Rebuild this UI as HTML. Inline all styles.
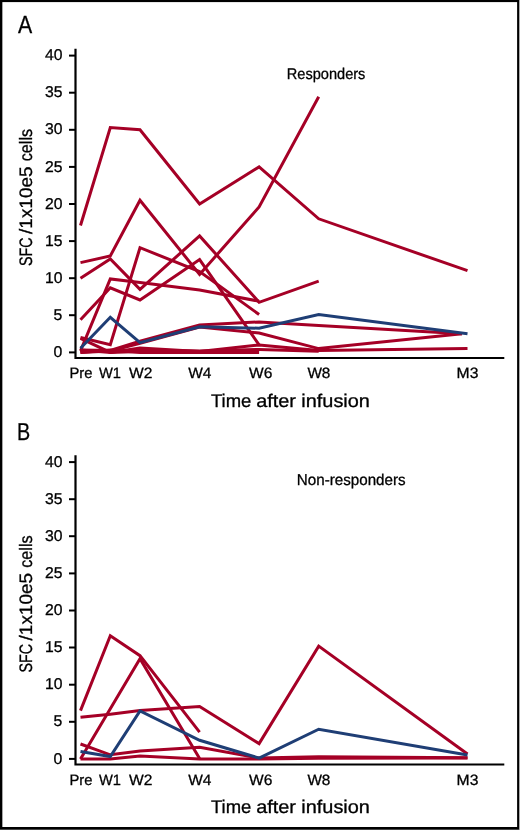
<!DOCTYPE html>
<html><head><meta charset="utf-8"><title>Figure</title>
<style>
html,body{margin:0;padding:0;background:#fff;}
body{width:520px;height:830px;overflow:hidden;}
svg{display:block;font-family:"Liberation Sans",sans-serif;}
.ln polyline{fill:none;stroke-width:3.0;stroke-linejoin:miter;stroke-linecap:butt;}
text{fill:#000;stroke:#000;stroke-width:0.3px;text-rendering:geometricPrecision;}
</style></head><body>
<svg width="520" height="830" viewBox="0 0 520 830">
<rect x="0" y="0" width="520" height="830" fill="#aaa"/>
<rect x="0" y="0" width="519" height="830" fill="#464646"/>
<rect x="0" y="0" width="519" height="829" fill="#000"/>
<rect x="2.35" y="2.1" width="514.75" height="824.9" fill="#fff"/>

<g class="ln">
<polyline points="80.5,225.5 110.3,127.5 140.0,129.8 199.6,204.0 259.1,166.9 318.7,218.8 467.5,270.7" stroke="#A50026"/>
<polyline points="80.5,262.6 110.3,255.9 140.0,200.2 199.6,274.4 259.1,206.9 318.7,96.7" stroke="#A50026"/>
<polyline points="80.5,278.2 110.3,258.9 140.0,289.3 199.6,235.9 259.1,302.3 318.7,281.1" stroke="#A50026"/>
<polyline points="80.5,319.7 110.3,287.8 140.0,300.0 199.6,259.6 259.1,344.9" stroke="#A50026"/>
<polyline points="80.5,350.9 110.3,278.9 140.0,282.6 199.6,290.0 259.1,301.2" stroke="#A50026"/>
<polyline points="80.5,337.5 110.3,344.6 140.0,247.7 199.6,271.5 259.1,314.5" stroke="#A50026"/>
<polyline points="80.5,350.1 110.3,350.5 140.0,341.2 199.6,324.9 259.1,321.9 318.7,325.6 462.0,333.8" stroke="#A50026"/>
<polyline points="80.5,352.4 110.3,350.9 140.0,343.4 199.6,327.1 259.1,333.1 318.7,348.6 462.0,333.8" stroke="#A50026"/>
<polyline points="80.5,338.3 110.3,352.4 140.0,351.6 199.6,352.4 259.1,350.1" stroke="#A50026"/>
<polyline points="80.5,350.1 110.3,352.4 140.0,347.9 199.6,351.6 259.1,344.9 318.7,350.5 467.5,348.6" stroke="#A50026"/>
<polyline points="80.5,352.4 110.3,350.1 140.0,352.4 199.6,352.4 259.1,352.4" stroke="#A50026"/>
<polyline points="80.5,351.6 110.3,351.6 140.0,350.1 199.6,350.9 259.1,349.4 318.7,351.2" stroke="#A50026"/>
<polyline points="80.5,348.3 110.3,317.3 140.0,342.7 199.6,326.8 259.1,328.2 318.7,314.5 467.5,333.8" stroke="#1F3E75"/>
<polyline points="80.5,710.6 110.3,635.7 140.0,655.7 199.6,732.1" stroke="#A50026"/>
<polyline points="80.5,758.9 110.3,708.8 140.0,658.7 199.6,758.5" stroke="#A50026"/>
<polyline points="80.5,717.3 110.3,714.3 140.0,710.6 199.6,706.5 259.1,743.6 318.7,646.1 467.5,754.0" stroke="#A50026"/>
<polyline points="80.5,744.0 110.3,754.8 140.0,751.1 199.6,747.3 259.1,758.1 318.7,756.8 467.5,757.7" stroke="#A50026"/>
<polyline points="80.5,758.9 110.3,758.9 140.0,755.9 199.6,758.9 259.1,758.9 318.7,758.3 467.5,758.1" stroke="#A50026"/>
<polyline points="80.5,751.4 110.3,756.6 140.0,711.0 199.6,740.3 259.1,758.1 318.7,729.2 467.5,755.1" stroke="#1F3E75"/>
</g>
<g style="filter:grayscale(1)">
<text x="18.1" y="33.4" font-size="24.8" textLength="14.2" lengthAdjust="spacingAndGlyphs">A</text>
<text x="16.9" y="439.6" font-size="24.5" textLength="13.2" lengthAdjust="spacingAndGlyphs">B</text>
<text x="286.8" y="79.3" font-size="15.5" textLength="78.6" lengthAdjust="spacingAndGlyphs">Responders</text>
<text x="296.8" y="485.0" font-size="15.6" textLength="108.8" lengthAdjust="spacingAndGlyphs">Non-responders</text>
<path d="M75.5,48.7 V358.0 H504.3" fill="none" stroke="#000" stroke-width="2.2" stroke-linejoin="miter"/>
<line x1="69" x2="75.5" y1="352.4" y2="352.4" stroke="#000" stroke-width="2"/>
<text x="53.6" y="357.0" font-size="15.7" textLength="8.8" lengthAdjust="spacingAndGlyphs">0</text>
<line x1="69" x2="75.5" y1="315.2" y2="315.2" stroke="#000" stroke-width="2"/>
<text x="53.6" y="319.9" font-size="15.7" textLength="8.8" lengthAdjust="spacingAndGlyphs">5</text>
<line x1="69" x2="75.5" y1="278.2" y2="278.2" stroke="#000" stroke-width="2"/>
<text x="44.9" y="282.8" font-size="15.7" textLength="17.5" lengthAdjust="spacingAndGlyphs">10</text>
<line x1="69" x2="75.5" y1="241.1" y2="241.1" stroke="#000" stroke-width="2"/>
<text x="44.9" y="245.7" font-size="15.7" textLength="17.5" lengthAdjust="spacingAndGlyphs">15</text>
<line x1="69" x2="75.5" y1="204.0" y2="204.0" stroke="#000" stroke-width="2"/>
<text x="44.9" y="208.6" font-size="15.7" textLength="17.5" lengthAdjust="spacingAndGlyphs">20</text>
<line x1="69" x2="75.5" y1="166.9" y2="166.9" stroke="#000" stroke-width="2"/>
<text x="44.9" y="171.5" font-size="15.7" textLength="17.5" lengthAdjust="spacingAndGlyphs">25</text>
<line x1="69" x2="75.5" y1="129.8" y2="129.8" stroke="#000" stroke-width="2"/>
<text x="44.9" y="134.4" font-size="15.7" textLength="17.5" lengthAdjust="spacingAndGlyphs">30</text>
<line x1="69" x2="75.5" y1="92.7" y2="92.7" stroke="#000" stroke-width="2"/>
<text x="44.9" y="97.3" font-size="15.7" textLength="17.5" lengthAdjust="spacingAndGlyphs">35</text>
<line x1="69" x2="75.5" y1="55.6" y2="55.6" stroke="#000" stroke-width="2"/>
<text x="44.9" y="60.2" font-size="15.7" textLength="17.5" lengthAdjust="spacingAndGlyphs">40</text>
<text x="69.4" y="378.4" font-size="15.0" textLength="23.0" lengthAdjust="spacingAndGlyphs">Pre</text>
<text x="98.9" y="378.4" font-size="15.0" textLength="22.0" lengthAdjust="spacingAndGlyphs">W1</text>
<text x="129.1" y="378.4" font-size="15.0" textLength="23.4" lengthAdjust="spacingAndGlyphs">W2</text>
<text x="188.2" y="378.4" font-size="15.0" textLength="23.2" lengthAdjust="spacingAndGlyphs">W4</text>
<text x="249.0" y="378.4" font-size="15.0" textLength="23.3" lengthAdjust="spacingAndGlyphs">W6</text>
<text x="307.4" y="378.4" font-size="15.0" textLength="23.0" lengthAdjust="spacingAndGlyphs">W8</text>
<text x="456.6" y="378.4" font-size="15.0" textLength="21.8" lengthAdjust="spacingAndGlyphs">M3</text>
<g font-size="18.3"><text x="211.0" y="406.6" textLength="40.4" lengthAdjust="spacingAndGlyphs">Time</text><text x="256.2" y="406.6" textLength="39.8" lengthAdjust="spacingAndGlyphs">after</text><text x="301.3" y="406.6" textLength="68.6" lengthAdjust="spacingAndGlyphs">infusion</text></g>
<g transform="translate(31.7,265.5) rotate(-90)" font-size="18"><text x="-0.6" y="0" textLength="28.6" lengthAdjust="spacingAndGlyphs">SFC</text><text x="31.6" y="0" textLength="67.4" lengthAdjust="spacingAndGlyphs">/1x10e5</text><text x="104.2" y="0" textLength="32.4" lengthAdjust="spacingAndGlyphs">cells</text></g>
<path d="M75.5,455.2 V764.5 H504.3" fill="none" stroke="#000" stroke-width="2.2" stroke-linejoin="miter"/>
<line x1="69" x2="75.5" y1="758.9" y2="758.9" stroke="#000" stroke-width="2"/>
<text x="53.6" y="763.5" font-size="15.7" textLength="8.8" lengthAdjust="spacingAndGlyphs">0</text>
<line x1="69" x2="75.5" y1="721.8" y2="721.8" stroke="#000" stroke-width="2"/>
<text x="53.6" y="726.4" font-size="15.7" textLength="8.8" lengthAdjust="spacingAndGlyphs">5</text>
<line x1="69" x2="75.5" y1="684.7" y2="684.7" stroke="#000" stroke-width="2"/>
<text x="44.9" y="689.3" font-size="15.7" textLength="17.5" lengthAdjust="spacingAndGlyphs">10</text>
<line x1="69" x2="75.5" y1="647.5" y2="647.5" stroke="#000" stroke-width="2"/>
<text x="44.9" y="652.1" font-size="15.7" textLength="17.5" lengthAdjust="spacingAndGlyphs">15</text>
<line x1="69" x2="75.5" y1="610.5" y2="610.5" stroke="#000" stroke-width="2"/>
<text x="44.9" y="615.1" font-size="15.7" textLength="17.5" lengthAdjust="spacingAndGlyphs">20</text>
<line x1="69" x2="75.5" y1="573.4" y2="573.4" stroke="#000" stroke-width="2"/>
<text x="44.9" y="578.0" font-size="15.7" textLength="17.5" lengthAdjust="spacingAndGlyphs">25</text>
<line x1="69" x2="75.5" y1="536.2" y2="536.2" stroke="#000" stroke-width="2"/>
<text x="44.9" y="540.9" font-size="15.7" textLength="17.5" lengthAdjust="spacingAndGlyphs">30</text>
<line x1="69" x2="75.5" y1="499.2" y2="499.2" stroke="#000" stroke-width="2"/>
<text x="44.9" y="503.8" font-size="15.7" textLength="17.5" lengthAdjust="spacingAndGlyphs">35</text>
<line x1="69" x2="75.5" y1="462.1" y2="462.1" stroke="#000" stroke-width="2"/>
<text x="44.9" y="466.7" font-size="15.7" textLength="17.5" lengthAdjust="spacingAndGlyphs">40</text>
<text x="69.4" y="784.9" font-size="15.0" textLength="23.0" lengthAdjust="spacingAndGlyphs">Pre</text>
<text x="98.9" y="784.9" font-size="15.0" textLength="22.0" lengthAdjust="spacingAndGlyphs">W1</text>
<text x="129.1" y="784.9" font-size="15.0" textLength="23.4" lengthAdjust="spacingAndGlyphs">W2</text>
<text x="188.2" y="784.9" font-size="15.0" textLength="23.2" lengthAdjust="spacingAndGlyphs">W4</text>
<text x="249.0" y="784.9" font-size="15.0" textLength="23.3" lengthAdjust="spacingAndGlyphs">W6</text>
<text x="307.4" y="784.9" font-size="15.0" textLength="23.0" lengthAdjust="spacingAndGlyphs">W8</text>
<text x="456.6" y="784.9" font-size="15.0" textLength="21.8" lengthAdjust="spacingAndGlyphs">M3</text>
<g font-size="18.3"><text x="211.0" y="813.1" textLength="40.4" lengthAdjust="spacingAndGlyphs">Time</text><text x="256.2" y="813.1" textLength="39.8" lengthAdjust="spacingAndGlyphs">after</text><text x="301.3" y="813.1" textLength="68.6" lengthAdjust="spacingAndGlyphs">infusion</text></g>
<g transform="translate(31.7,672.0) rotate(-90)" font-size="18"><text x="-0.6" y="0" textLength="28.6" lengthAdjust="spacingAndGlyphs">SFC</text><text x="31.6" y="0" textLength="67.4" lengthAdjust="spacingAndGlyphs">/1x10e5</text><text x="104.2" y="0" textLength="32.4" lengthAdjust="spacingAndGlyphs">cells</text></g>
</g>
</svg></body></html>
